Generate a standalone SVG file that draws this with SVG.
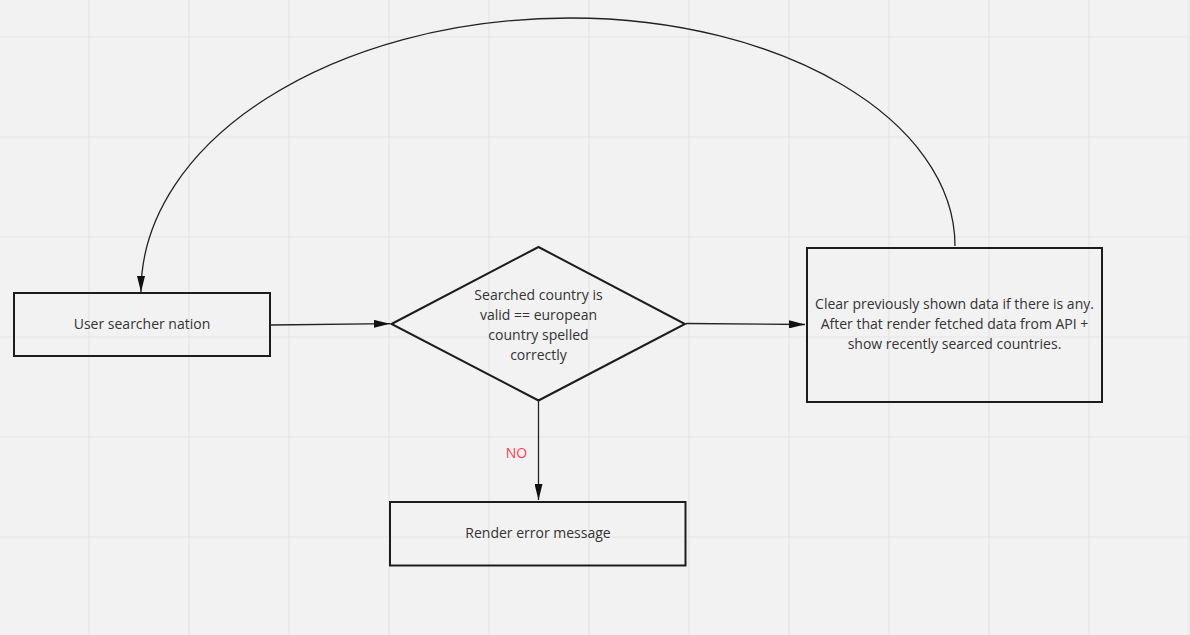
<svg xmlns="http://www.w3.org/2000/svg" width="1190" height="635" viewBox="0 0 1190 635">
<style>
.grid{stroke:#e5e5e5;stroke-width:1.2}
.node{fill:none;stroke:#1c1c1c;stroke-width:2}
.lbl{font-family:"Open Sans","Noto Sans",sans-serif;font-size:14px;fill:#333;text-anchor:middle;dominant-baseline:central}
.conn{fill:none;stroke:#222;stroke-width:1.3}
</style>
<defs>
<marker id="arr" viewBox="0 0 16 8" refX="16" refY="4" markerWidth="16" markerHeight="8" markerUnits="userSpaceOnUse" orient="auto">
<path d="M0,0 L16,4 L0,8 Z" fill="#111"/>
</marker>
</defs>
<rect width="1190" height="635" fill="#f2f2f2"/>
<g id="grid">
<path class="grid" d="M89,0V635M189,0V635M289,0V635M389,0V635M489,0V635M589,0V635M689,0V635M789,0V635M889,0V635M989,0V635M1089,0V635M1189,0V635M0,37H1190M0,137H1190M0,237H1190M0,337H1190M0,437H1190M0,537H1190"/>
</g>
<g id="connectors">
<path class="conn" d="M271,325 L390,323.7" marker-end="url(#arr)"/>
<path class="conn" d="M686,323.5 L805,324.5" marker-end="url(#arr)"/>
<path class="conn" d="M538.5,401 L538.5,500" marker-end="url(#arr)"/>
<path class="conn" d="M955,246 C955,120.1 782.6,18 570,18 C333.2,18 141,140.7 141,292" marker-end="url(#arr)"/>
<text x="516.5" y="452" class="lbl" style="fill:#ff3b4e">NO</text>
</g>
<g id="node-user">
<rect class="node" x="14" y="293" width="256" height="63"/>
<text class="lbl" x="142" y="323">User searcher nation</text>
</g>
<g id="node-decision">
<polygon class="node" points="391.5,324 538.5,247 685,324 538.5,400.5"/>
<text class="lbl" x="538.5" y="294">Searched country is</text>
<text class="lbl" x="538.5" y="314">valid == european</text>
<text class="lbl" x="538.5" y="334">country spelled</text>
<text class="lbl" x="538.5" y="354">correctly</text>
</g>
<g id="node-render">
<rect class="node" x="807" y="248" width="295" height="154"/>
<text class="lbl" x="954.5" y="303">Clear previously shown data if there is any.</text>
<text class="lbl" x="954.5" y="323">After that render fetched data from API +</text>
<text class="lbl" x="954.5" y="343">show recently searced countries.</text>
</g>
<g id="node-error">
<rect class="node" x="390" y="502" width="295.5" height="63.5"/>
<text class="lbl" x="538" y="532">Render error message</text>
</g>
</svg>
